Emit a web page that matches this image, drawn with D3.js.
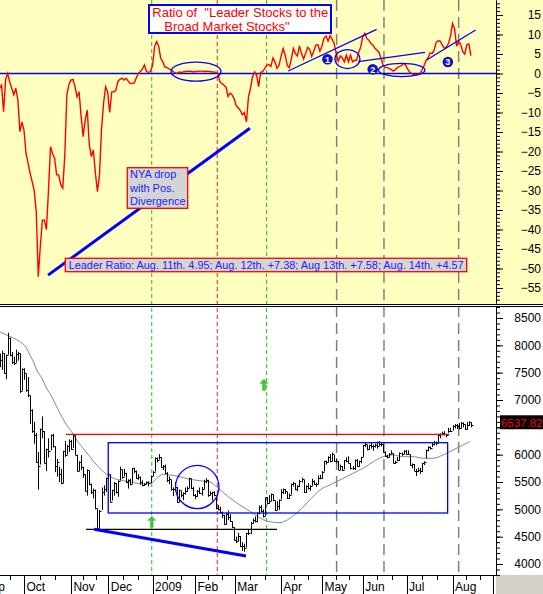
<!DOCTYPE html>
<html><head><meta charset="utf-8">
<script src="https://cdn.jsdelivr.net/npm/d3@7"></script>
<style>body{margin:0;background:#fff;}svg{display:block;font-family:"Liberation Sans",Arial,sans-serif;}</style>
</head><body><svg id="c" width="543" height="594"></svg>
<script>
// ---------- DATA (trading-day index 0 = Sep 15 2008) ----------
const ratio = [-3.8,-3,-9.8,-1.5,0,-2.1,-3.8,-5.5,-3.8,-6.8,
 -14.9,-12.4,-14.5,-20.5,-23,-25.6,-27.7,-30,-35.4,-52.1,
 -44.4,-37.6,-37.6,-40,-30,-18.8,-20.5,-21.7,-26,-26,
 -28.5,-29.4,-21,-5.5,-2.9,-1.7,-1.5,-3.4,-6,-4.7,
 -11,-16.2,-11.9,-9.4,-18.2,-21.3,-19.6,-25.6,-30.3,-26,
 -14.2,-7.6,-3.4,-4.7,-10,-4.7,-4.7,-4.3,-2.1,-1.5,
 -1.2,-1.7,-1.2,-1.9,-2.5,-2.6,-2.4,-1.2,0,0.5,
 1.1,2.2,0.5,0.3,0.5,2,6.9,8.2,7,3.9,
 3,1.7,1.5,1.2,1,0.5,0.2,0,0.4,0.3,
 0.4,0.5,0.5,0.6,0.5,0.4,0.5,0.5,0.6,0.6,
 0.5,0.5,0.6,0.5,0.4,0.4,0.3,0,-2.1,-2.6,
 -3,-3.5,-5.9,-5,-5.5,-6.5,-8.3,-8.8,-9.5,-10.6,
 -10,-12.4,-6,-3.8,-0.8,0.4,-0.4,-3.4,0.3,0.5,
 1.3,2.1,2.3,1.8,4,3,1.3,2.1,4.5,6.4,
 4.7,2.1,1.5,3.7,6.4,5.1,4.5,7.1,5.1,3.7,
 5.1,6.7,6.2,4.4,5.7,7.3,7.4,5.7,7,9.1,
 9.6,8.3,9.7,8.8,7.7,5.1,3.2,4.5,4,3,
 4.7,3,4.7,3,3.4,3.4,5.4,6.8,9.4,10.3,
 9,8.5,7.7,7.3,6.4,6,5.4,3.8,2.1,1.5,
 1.5,1.3,1,0.6,1,1.5,1.8,2.1,2.6,2.2,
 1.2,0.3,0,-0.2,-0.4,-0.2,0,0.8,2,3.3,
 4,5.3,5.1,6,8,8.4,8.3,7.3,6.5,6.8,
 7.7,9.6,12.8,11.5,7,8.3,7.5,5.6,4.95,7.38,
 7.58,4.57];

const close = [7729,7864,7493,7818,8133,7822,7700,7685,7836,7862,7169,7558,
 7489,7187,7090,6817,6426,6353,5869,5800,6472,6437,5855,6104,6067,6356,6160,5784,5857,5655,5475,6066,5999,6154,6249,
 6107,6357,6003,5701,5865,5773,5646,5344,5714,5467,5317,5361,5017,4665,4976,5324,5376,5575,5646,
 5142,5347,5485,5325,5519,5731,5599,5665,5504,5542,5472,5753,5698,5577,5594,5491,5438,5470,5499,5477,5611,5691,
 5936,5908,5954,5776,5795,5672,5544,5553,5367,5374,5415,5129,5352,5271,5300,5329,5387,5568,5383,5261,
 5250,5333,5293,5380,5524,5533,5261,5302,5312,5258,5019,5014,4954,4897,4727,4917,4865,4788,4675,
 4443,4415,4520,4327,4333,4289,4562,4574,4759,4797,4780,4933,5036,4971,4872,5217,5111,5160,5281,5173,4993,5059,
 5175,5323,5375,5330,5203,5265,5465,5479,5369,5436,5521,5548,5311,5424,5382,5435,5526,5471,5456,5574,5568,
 5686,5879,5857,5958,5880,6021,5892,5886,5728,5787,5721,5895,5884,5855,5756,5748,5899,5787,5876,5956,
 6176,6188,6103,6173,6158,6151,6173,6151,6189,6198,6050,5973,5965,6016,6034,5849,5863,5901,6028,6019,6073,6021,
 6020,5810,5825,5710,5700,5720,5700,5840,5870,6081,6133,6131,6201,6224,6221,6365,6385,6404,6387,6358,6434,6439,
 6527,6547,6528,6491,6578,6556,6473,6548,6593,6537.82];

const high = [7850,7900,7850,7830,8230,8140,7880,7790,7920,7880,7850,7580,
 7580,7480,7420,7080,6830,6600,6400,6050,6480,6700,6430,6110,6300,6370,6380,6150,5920,5780,5740,6070,6250,6180,6280,
 6270,6370,6350,6000,5880,5990,5780,5640,5730,5700,5470,5380,5360,5010,4990,5400,5440,5580,5660,
 5640,5360,5500,5480,5530,5780,5730,5740,5670,5550,5560,5760,5760,5710,5640,5600,5530,5480,5510,5510,5620,5700,
 5950,5950,6010,5950,5810,5820,5680,5600,5540,5400,5500,5410,5360,5340,5310,5400,5420,5580,5560,5410,
 5280,5350,5400,5410,5540,5570,5540,5330,5320,5330,5220,5080,5050,4960,4900,4940,4980,4910,4780,
 4670,4500,4570,4510,4400,4370,4570,4640,4770,4830,4870,4940,5070,5080,5000,5220,5220,5260,5290,5270,5160,5150,
 5180,5370,5380,5370,5320,5290,5470,5500,5480,5440,5540,5580,5540,5440,5480,5440,5560,5530,5490,5620,5630,
 5700,5890,5890,5970,6010,6040,5990,5930,5880,5820,5790,5900,5950,5970,5840,5790,5910,5920,5890,5960,
 6180,6220,6180,6180,6230,6180,6200,6240,6250,6220,6190,6060,6000,6030,6080,6020,5890,5960,6040,6040,6080,6090,
 6080,6000,5840,5830,5740,5760,5760,5850,5880,6090,6150,6150,6210,6250,6240,6380,6390,6420,6430,6380,6490,6490,
 6540,6560,6560,6580,6600,6590,6550,6600,6610,6590];

const low = [7600,7550,7480,7380,7830,7800,7660,7640,7680,7720,7130,7170,
 7370,7150,7050,6560,6400,6200,5850,5360,5820,6300,5840,5700,5950,6080,6130,5680,5600,5500,5460,5480,5960,6000,6050,
 6090,6120,5990,5690,5700,5720,5580,5330,5250,5440,5280,5200,5000,4650,4660,4990,5250,5320,5550,
 5130,5160,5250,5290,5230,5530,5560,5600,5480,5380,5440,5470,5660,5560,5540,5450,5420,5430,5460,5420,5480,5610,
 5690,5860,5910,5760,5720,5650,5500,5460,5340,5240,5330,5120,5130,5220,5170,5270,5320,5390,5370,5240,
 5190,5230,5280,5250,5370,5480,5230,5250,5160,5240,5000,4980,4930,4840,4720,4720,4800,4770,4660,
 4430,4380,4410,4310,4240,4226,4300,4530,4550,4740,4760,4760,4910,4950,4850,4880,5090,5100,5150,5150,4970,4990,
 4990,5180,5280,5280,5190,5200,5270,5420,5350,5330,5410,5490,5300,5300,5360,5340,5430,5450,5410,5460,5550,
 5560,5690,5820,5860,5860,5880,5870,5840,5720,5720,5700,5730,5860,5840,5730,5720,5720,5780,5780,5840,
 5960,6140,6080,6090,6110,6070,6130,6110,6160,6150,6040,5960,5930,5950,6010,5840,5830,5880,5890,5980,6010,6000,
 6010,5800,5750,5700,5610,5680,5650,5680,5810,5930,6060,6090,6140,6170,6170,6230,6300,6350,6350,6320,6400,6420,
 6440,6480,6470,6460,6480,6500,6450,6460,6530,6500];

// moving average (gray) read at sample days
const maDay = [0,3.5,6.8,10,13.3,14.9,16.6,18.2,20.7,23.1,25.6,28,30.5,32.9,35.4,37.8,41,44.3,47.6,50.9,54.1,57.4,60.7,65.6,70.5,74.6,77,80.3,83.5,88.4,93.3,98.2,103.1,107,112.9,117.8,124,130.9,137.4,142.3,147.2,152.1,157,161.9,166.8,173.3,178.2,183.2,188,193,197.8,202.7,207.6,212.5,217.4,222.3,227.2,230.5];
const maVal = [8249,8189,8134,8067,7946,7823,7701,7549,7403,7214,7061,6878,6695,6543,6420,6269,6117,5963,5811,5689,5597,5550,5524,5488,5464,5488,5568,5641,5629,5597,5550,5524,5500,5391,5208,5080,4933,4787,4756,4837,4988,5171,5354,5446,5537,5660,5751,5872,5963,5994,5963,5963,5934,5934,5994,6086,6177,6238];

const monthLabels = ["Sep","Oct","Nov","Dec","2009","Feb","Mar","Apr","May","Jun","Jul","Aug",""];
const monthDay    = [-9,12,35,53.3,75,95.8,115.3,137.8,158,178,199.5,222,242];
const topTicks = [-55,-50,-45,-40,-35,-30,-25,-20,-15,-10,-5,0,5,10,15];
const botTicks = [4000,4500,5000,5500,6000,6500,7000,7500,8000,8500];
const greenDays = [74.6,130.9];
const redDays = [106.7];
const grayDays = [165.2,188.4,225];
const lastValue = 6537.82;

// ---------- SCALES ----------
const W=543, H=594, R=496;
const svg = d3.select("#c");
const x  = d3.scaleLinear().domain([0,243.3]).range([-0.5,496]);
const yT = d3.scaleLinear().domain([-58.85,18.85]).range([303,0]);
const yB = d3.scaleLinear().domain([3799,8701]).range([575,307]);

// backgrounds
svg.append("rect").attr("x",0).attr("y",0).attr("width",W).attr("height",304).attr("fill","#FFFFC0");
svg.append("rect").attr("x",0).attr("y",304).attr("width",W).attr("height",290).attr("fill","#fff");
svg.append("rect").attr("x",R).attr("y",575).attr("width",W-R).attr("height",19).attr("fill","#D4D0C8");

const defs = svg.append("defs");
defs.append("clipPath").attr("id","ct").append("rect").attr("x",0).attr("y",0).attr("width",R).attr("height",304);
defs.append("clipPath").attr("id","cb").append("rect").attr("x",0).attr("y",307).attr("width",R).attr("height",268);

// vertical dashed lines (both panels)
const vg = svg.append("g");
function vlines(days,color,dash,w){
  vg.selectAll(null).data(days).enter().append("line")
    .attr("x1",d=>x(d)).attr("x2",d=>x(d)).attr("y1",0).attr("y2",575)
    .attr("stroke",color).attr("stroke-width",w).attr("stroke-dasharray",dash);
}
vlines(greenDays,"#22BB22","4,3",1);
vlines(redDays,"#DD2222","4,3",1);
vlines(grayDays,"#808080","11,6",1.5);

// ---------- TOP PANEL ----------
const gt = svg.append("g").attr("clip-path","url(#ct)");
gt.append("line").attr("x1",0).attr("x2",R).attr("y1",yT(0)).attr("y2",yT(0)).attr("stroke","#0000FF").attr("stroke-width",1.5);
gt.append("path").datum(ratio)
  .attr("d",d3.line().x((d,i)=>x(i)).y(d=>yT(d)))
  .attr("fill","none").attr("stroke","#FF0000").attr("stroke-width",1.4);

// annotation lines (day,value)
const topLines = [
  {a:[23.8,-51.7],b:[122.7,-14.05],w:3},
  {a:[141.5,0.64],b:[184.8,11.33],w:1.3},
  {a:[175.8,3.03],b:[208.5,5.44],w:1.3},
  {a:[209.3,3.46],b:[233.3,11.15],w:1.3}];
gt.selectAll(null).data(topLines).enter().append("line")
  .attr("x1",d=>x(d.a[0])).attr("y1",d=>yT(d.a[1])).attr("x2",d=>x(d.b[0])).attr("y2",d=>yT(d.b[1]))
  .attr("stroke","#0000FF").attr("stroke-width",d=>d.w);
const topEll = [{c:[96.3,0.5],rx:12.25,ry:2.44},{c:[170.5,3.7],rx:6.1,ry:2.44},{c:[197.1,0.9],rx:11.4,ry:1.7}];
gt.selectAll(null).data(topEll).enter().append("ellipse")
  .attr("cx",d=>x(d.c[0])).attr("cy",d=>yT(d.c[1]))
  .attr("rx",d=>x(d.c[0]+d.rx)-x(d.c[0])).attr("ry",d=>yT(0)-yT(d.ry))
  .attr("fill","none").attr("stroke","#0000FF").attr("stroke-width",1.3);
const badges = [{c:[160.7,3.64],t:"1"},{c:[182.9,1.08],t:"2"},{c:[219.7,2.95],t:"3"}];
const bg = gt.selectAll(null).data(badges).enter().append("g")
  .attr("transform",d=>`translate(${x(d.c[0])},${yT(d.c[1])})`);
bg.append("circle").attr("r",5.3).attr("fill","#1010C8");
bg.append("text").text(d=>d.t).attr("text-anchor","middle").attr("dy","3.3").attr("fill","#fff")
  .attr("font-size","9px").attr("font-weight","bold");

// title box
svg.append("rect").attr("x",149).attr("y",5).attr("width",182).attr("height",28)
  .attr("fill","#fff").attr("stroke","#0000FF").attr("stroke-width",2);
svg.append("text").attr("x",152.3).attr("y",16.5).attr("fill","#FF0000").attr("font-size","13px")
  .attr("xml:space","preserve").style("white-space","pre").text('Ratio of  "Leader Stocks to the');
svg.append("text").attr("x",164.3).attr("y",30.8).attr("fill","#FF0000").attr("font-size","13px")
  .text('Broad Market Stocks"');

// NYA box
svg.append("rect").attr("x",127.3).attr("y",167.7).attr("width",60.4).attr("height",40.6)
  .attr("fill","#D4D4D4").attr("stroke","#FF0000").attr("stroke-width",1.3);
["NYA drop","with Pos.","Divergence"].forEach((t,i)=>{
  svg.append("text").attr("x",130).attr("y",177.6+i*13.9).attr("fill","#2222FF").attr("font-size","11px").text(t);
});
// leader ratio box
svg.append("rect").attr("x",65.3).attr("y",258.3).attr("width",401.4).attr("height",13.4)
  .attr("fill","#D4D4D4").attr("stroke","#FF0000").attr("stroke-width",1.3);
svg.append("text").attr("x",68.7).attr("y",269.2).attr("fill","#2222FF").attr("font-size","10.9px")
  .text("Leader Ratio: Aug. 11th. 4.95; Aug. 12th. +7.38; Aug 13th. +7.58; Aug. 14th. +4.57");

// top axis
const gta = svg.append("g").attr("transform",`translate(${R},0)`);
gta.append("g").call(d3.axisRight(yT).tickValues(d3.range(-58,19,1)).tickSize(4).tickSizeOuter(0).tickFormat(""));
gta.append("g").call(d3.axisRight(yT).tickValues(topTicks).tickSize(7).tickSizeOuter(0).tickFormat(d3.format("d")))
  .call(g=>g.selectAll("text").attr("x",45).attr("text-anchor","end").attr("fill","#000").style("font-size","12px").style("font-family","Liberation Sans, Arial"));

// separator
svg.append("rect").attr("x",0).attr("y",304).attr("width",W).attr("height",1).attr("fill","#000");
svg.append("rect").attr("x",0).attr("y",306).attr("width",W).attr("height",1).attr("fill","#000");

// ---------- BOTTOM PANEL ----------
const gb = svg.append("g").attr("clip-path","url(#cb)");
gb.append("path").datum(maDay.map((d,i)=>[d,maVal[i]]))
  .attr("d",d3.line().curve(d3.curveMonotoneX).x(d=>x(d[0])).y(d=>yB(d[1])))
  .attr("fill","none").attr("stroke","#888").attr("stroke-width",1);
gb.append("path")
  .attr("d",close.map((c,i)=>{const px=Math.round(x(i))+0.5;
     return `M${px},${yB(high[i])}V${yB(low[i])}M${px},${Math.round(yB(c))+0.5}h2`;}).join(""))
  .attr("fill","none").attr("stroke","#000").attr("stroke-width",1);

// bottom annotations
gb.append("line").attr("x1",x(32.6)).attr("x2",x(220.5)).attr("y1",yB(6373)).attr("y2",yB(6373)).attr("stroke","#FF0000").attr("stroke-width",1.3);
gb.append("rect").attr("x",x(53.3)).attr("y",yB(6219)).attr("width",x(219.6)-x(53.3)).attr("height",yB(4933)-yB(6219))
  .attr("fill","none").attr("stroke","#0000FF").attr("stroke-width",1.3);
gb.append("line").attr("x1",x(42.4)).attr("x2",x(136)).attr("y1",yB(4635)).attr("y2",yB(4635)).attr("stroke","#000").attr("stroke-width",1.2);
gb.append("line").attr("x1",x(46.4)).attr("y1",yB(4635)).attr("x2",x(120.8)).attr("y2",yB(4147)).attr("stroke","#0000FF").attr("stroke-width",3);
gb.append("circle").attr("cx",x(96.9)).attr("cy",yB(5409)).attr("r",21.7).attr("fill","none").attr("stroke","#0000FF").attr("stroke-width",1.3);
const arrows = [[74.6,4880],[129.6,7385]];
gb.selectAll(null).data(arrows).enter().append("path")
  .attr("transform",d=>`translate(${x(d[0])},${yB(d[1])})`)
  .attr("d","M0,0L4,4.5H1.5V11.5H-1.5V4.5H-4Z").attr("fill","#33CC33").attr("stroke","#66BB44").attr("stroke-width",0.5);

// bottom axis (right); the 6500 label sits under the last-value box
const gba = svg.append("g").attr("transform",`translate(${R},0)`);
gba.append("g").call(d3.axisRight(yB).tickValues(d3.range(3800,8701,100)).tickSize(4).tickSizeOuter(0).tickFormat(""));
gba.append("g").call(d3.axisRight(yB).tickValues(botTicks).tickSize(7).tickSizeOuter(0)
    .tickFormat(d=>d===6500?"":d3.format("d")(d)))
  .call(g=>g.selectAll("text").attr("x",45).attr("text-anchor","end").attr("fill","#000").style("font-size","12px").style("font-family","Liberation Sans, Arial"));
svg.selectAll(".domain").attr("stroke","#000");

// last value label
const ly = yB(lastValue)-2.5;
svg.append("rect").attr("x",500).attr("y",ly-7.5).attr("width",43).attr("height",14).attr("fill","#000");
svg.append("text").attr("x",542.5).attr("y",ly+4.2).attr("text-anchor","end").attr("fill","#FF0000").attr("font-size","11.5px").text(lastValue.toFixed(2));

// x axis
const gx = svg.append("g");
gx.append("line").attr("x1",0).attr("x2",R).attr("y1",575.5).attr("y2",575.5).attr("stroke","#000");
monthDay.forEach((d,i)=>{
  const px = Math.round(x(d))+0.5;
  gx.append("line").attr("x1",px).attr("x2",px).attr("y1",575).attr("y2",594).attr("stroke","#000");
  if(i<monthDay.length-1){
    const n = monthDay[i+1];
    [1/3,2/3].forEach(f=>{const mx=Math.round(x(d+(n-d)*f))+0.5;
      gx.append("line").attr("x1",mx).attr("x2",mx).attr("y1",575).attr("y2",580).attr("stroke","#000");});
  }
  if(monthLabels[i]) gx.append("text").attr("x",x(d)+2.5).attr("y",591).attr("font-size","12px").attr("fill","#000").text(monthLabels[i]);
});
</script></body></html>
